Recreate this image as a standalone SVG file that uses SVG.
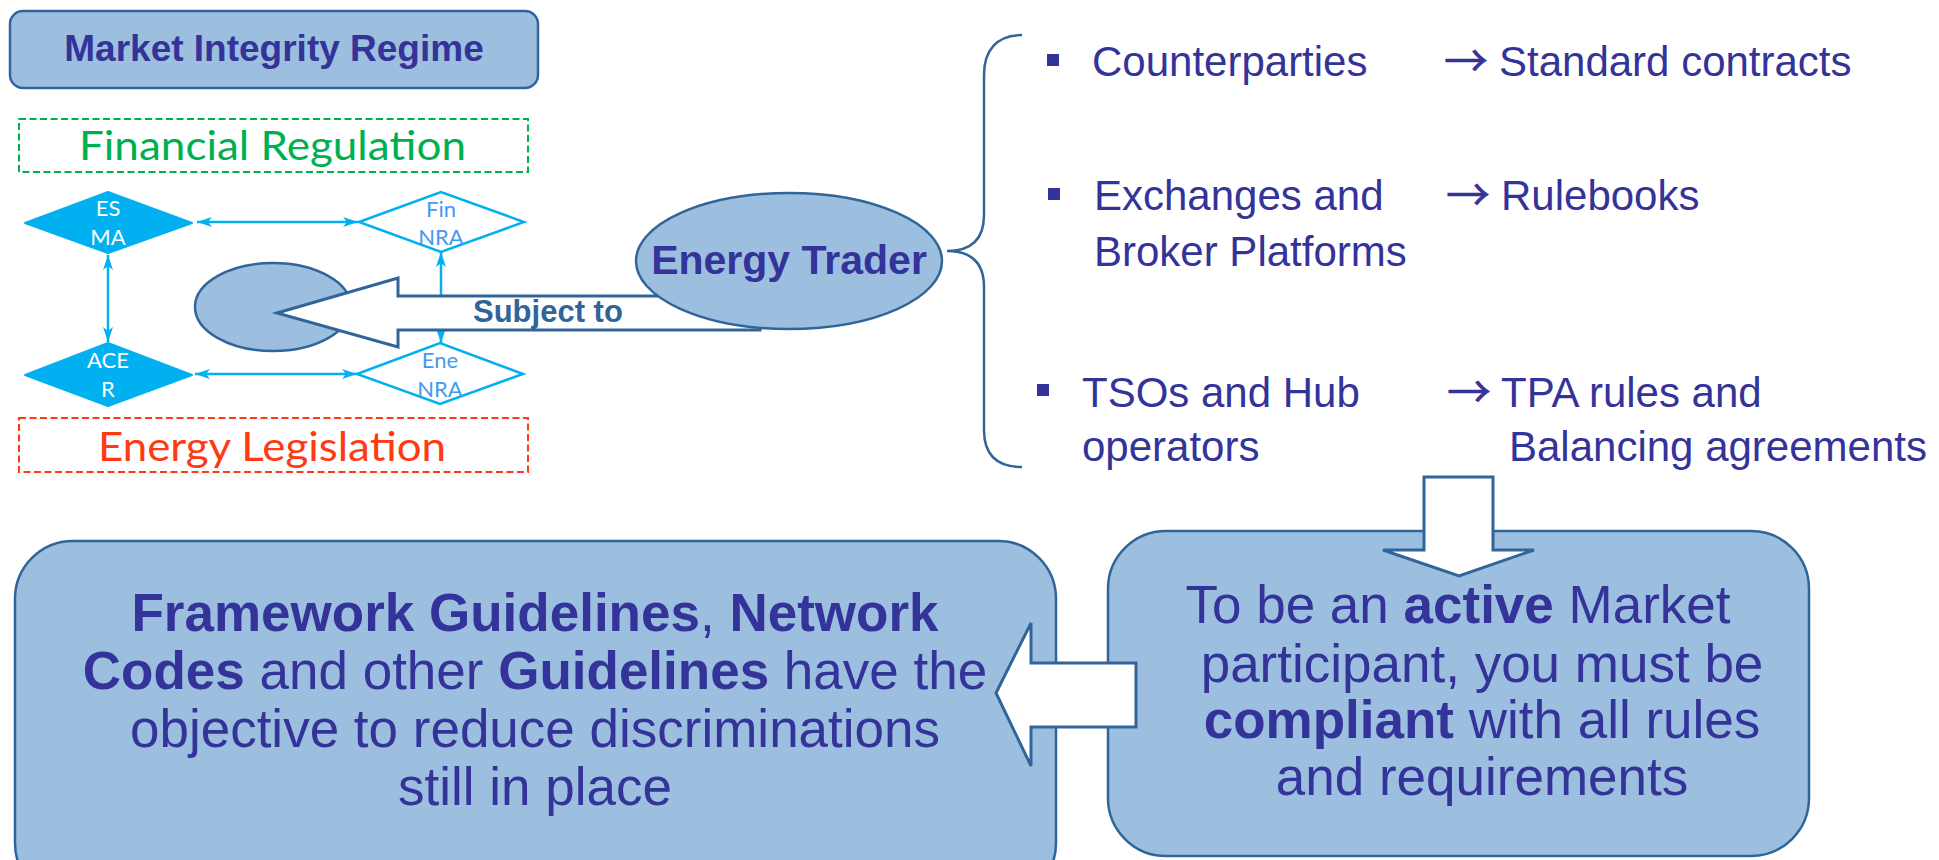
<svg xmlns="http://www.w3.org/2000/svg" width="1939" height="860" viewBox="0 0 1939 860">
  <style>
    .panel { fill: #9DBFDF; stroke: #31659A; stroke-width: 2.5; }
    .block { fill: #FFFFFF; stroke: #31659A; stroke-width: 3; stroke-linejoin: miter; }
    .ink { fill: #333399; font-family: "Liberation Sans", Arial, sans-serif; }
    .b { font-weight: bold; }
    .agency { fill: #00B0F0; stroke: #00B0F0; stroke-width: 2; stroke-linejoin: round; }
    .nra { fill: #FFFFFF; stroke: #00B0F0; stroke-width: 2.5; }
    .small { font-family: Lato, "Noto Sans", sans-serif; font-size: 22px; text-anchor: middle; }
    .link { stroke: #00B0F0; stroke-width: 2.5; fill: none; marker-start: url(#tip); marker-end: url(#tip); }
    .dash { fill: none; stroke-width: 2; stroke-dasharray: 7 3.5; }
    .arrowsym { fill: #333399; stroke: #333399; stroke-width: 0.6; font-family: "Noto Sans CJK SC", "DejaVu Sans", sans-serif; font-size: 44px; }
  </style>
  <defs>
    <marker id="tip" viewBox="0 0 15 10" refX="15" refY="5" markerWidth="15" markerHeight="10" markerUnits="userSpaceOnUse" orient="auto-start-reverse">
      <path d="M0,0 L15,5 L0,10 L4,5 Z" fill="#00B0F0"/>
    </marker>
  </defs>

  <rect width="1939" height="860" fill="#FFFFFF"/>

  <!-- Title box -->
  <g id="market-integrity-regime">
    <rect class="panel" x="10" y="11" width="528" height="77" rx="13"/>
    <text class="ink b" x="274" y="61" font-size="37" text-anchor="middle">Market Integrity Regime</text>
  </g>

  <!-- Legislation frames -->
  <g id="financial-regulation">
    <rect class="dash" x="19" y="119" width="509" height="53" stroke="#00B050"/>
    <text x="79" y="160" font-family="Lato, 'Noto Sans', sans-serif" font-size="40" fill="#00B050" textLength="387" lengthAdjust="spacingAndGlyphs">Financial Regulation</text>
  </g>
  <g id="energy-legislation">
    <rect class="dash" x="19" y="418" width="509" height="54" stroke="#FF3A12"/>
    <text x="98" y="461" font-family="Lato, 'Noto Sans', sans-serif" font-size="40" fill="#FF3A12" textLength="348" lengthAdjust="spacingAndGlyphs">Energy Legislation</text>
  </g>

  <!-- Bottom-left panel -->
  <g id="guidelines">
    <rect class="panel" x="15" y="541" width="1041" height="360" rx="58"/>
    <g class="ink" font-size="53" text-anchor="middle">
      <text x="535" y="631"><tspan class="b">Framework Guidelines</tspan>, <tspan class="b">Network</tspan></text>
      <text x="535" y="689"><tspan class="b">Codes</tspan> and other <tspan class="b">Guidelines</tspan> have the</text>
      <text x="535" y="747">objective to reduce discriminations</text>
      <text x="535" y="805">still in place</text>
    </g>
  </g>

  <!-- Bottom-right panel -->
  <g id="compliance">
    <rect class="panel" x="1108" y="531" width="701" height="325" rx="58"/>
    <g class="ink" font-size="53" text-anchor="middle">
      <text x="1458" y="623">To be an <tspan class="b">active</tspan> Market</text>
      <text x="1482" y="682">participant, you must be</text>
      <text x="1482" y="738"><tspan class="b">compliant</tspan> with all rules</text>
      <text x="1482" y="795">and requirements</text>
    </g>
  </g>

  <!-- Links between authorities -->
  <g id="connectors">
    <line class="link" x1="197" y1="222" x2="358" y2="222"/>
    <line class="link" x1="195" y1="374" x2="357" y2="374"/>
    <line class="link" x1="108" y1="255" x2="108" y2="342"/>
    <line class="link" x1="441" y1="252" x2="441" y2="343"/>
  </g>

  <!-- Authorities -->
  <g id="esma">
    <polygon class="agency" points="25,223 108,192 192,223 108,253"/>
    <text class="small" x="108" y="216" fill="#FFFFFF">ES</text>
    <text class="small" x="108" y="245" fill="#FFFFFF">MA</text>
  </g>
  <g id="acer">
    <polygon class="agency" points="25,375 108,343 192,375 108,406"/>
    <text class="small" x="108" y="368" fill="#FFFFFF">ACE</text>
    <text class="small" x="108" y="397" fill="#FFFFFF">R</text>
  </g>
  <g id="fin-nra">
    <polygon class="nra" points="359,222 441,192 524,222 441,252"/>
    <text class="small" x="441" y="217" fill="#4599F0">Fin</text>
    <text class="small" x="441" y="245" fill="#4599F0">NRA</text>
  </g>
  <g id="ene-nra">
    <polygon class="nra" points="357,374 440,343 523,374 440,404"/>
    <text class="small" x="440" y="368" fill="#4599F0">Ene</text>
    <text class="small" x="440" y="397" fill="#4599F0">NRA</text>
  </g>

  <!-- Regulated entity -->
  <g id="entity">
    <ellipse class="panel" cx="273" cy="307" rx="78" ry="44"/>
  </g>

  <!-- Subject-to arrow -->
  <g id="subject-to">
    <polygon class="block" points="277,313 398,278 398,296 760,296 760,330 398,330 398,347"/>
    <text x="473" y="322" font-family="'Liberation Sans', Arial, sans-serif" font-size="31" font-weight="bold" fill="#31659A">Subject to</text>
  </g>

  <!-- Energy trader -->
  <g id="energy-trader">
    <ellipse class="panel" cx="789" cy="261" rx="153" ry="68"/>
    <text class="ink b" x="789" y="274" font-size="41" text-anchor="middle">Energy Trader</text>
  </g>

  <!-- Brace -->
  <g id="brace">
    <path d="M1022,35 C997,35 984,50 984,75 L984,215 C984,240 970,251 947,251 C970,251 984,262 984,287 L984,430 C984,455 997,467 1022,467" fill="none" stroke="#31659A" stroke-width="2.5"/>
  </g>

  <!-- Obligations list -->
  <g id="obligations" class="ink" font-size="42">
    <rect x="1047" y="54" width="12" height="12" fill="#333399"/>
    <text x="1092" y="76">Counterparties</text>
    <text class="arrowsym" x="1444" y="77">→</text>
    <text x="1499" y="76">Standard contracts</text>

    <rect x="1048" y="188" width="12" height="12" fill="#333399"/>
    <text x="1094" y="210">Exchanges and</text>
    <text x="1094" y="266">Broker Platforms</text>
    <text class="arrowsym" x="1446" y="211">→</text>
    <text x="1501" y="210">Rulebooks</text>

    <rect x="1037" y="384" width="12" height="12" fill="#333399"/>
    <text x="1082" y="407">TSOs and Hub</text>
    <text x="1082" y="461">operators</text>
    <text class="arrowsym" x="1447" y="408">→</text>
    <text x="1501" y="407">TPA rules and</text>
    <text x="1509" y="461">Balancing agreements</text>
  </g>

  <!-- Flow arrows -->
  <g id="down-arrow">
    <polygon class="block" points="1424,477 1493,477 1493,550 1534,550 1459,576 1383,550 1424,550"/>
  </g>
  <g id="left-arrow">
    <polygon class="block" points="996,693 1031,623 1031,663 1136,663 1136,727 1031,727 1031,766"/>
  </g>
</svg>
